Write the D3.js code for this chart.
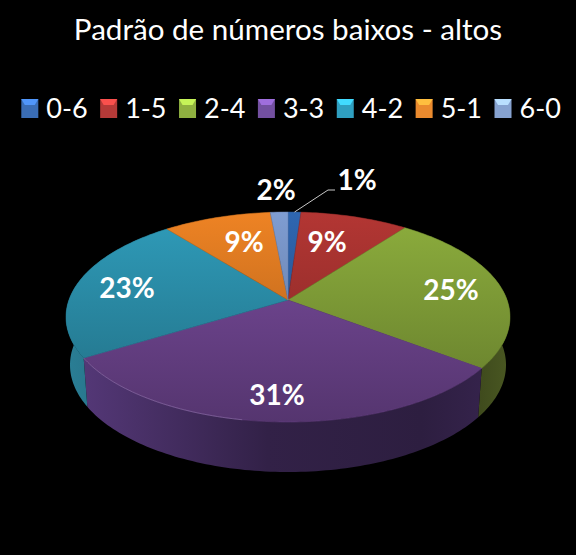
<!DOCTYPE html>
<html>
<head>
<meta charset="utf-8">
<script src="https://cdnjs.cloudflare.com/ajax/libs/d3/7.8.5/d3.min.js"></script>
<style>
html, body { margin: 0; padding: 0; background: #000; }
svg { display: block; }
text { font-family: Lato, "Open Sans", sans-serif; fill: #fff; }
</style>
</head>
<body>
<div id="chart"></div>
<script>
var title = "Padrão de números baixos - altos";
var categories = ["0-6", "1-5", "2-4", "3-3", "4-2", "5-1", "6-0"];
var shares = [1.1, 9.2, 25, 31, 23, 9.2, 1.5];
var shareLabels = ["1%", "9%", "25%", "31%", "23%", "9%", "2%"];
var legendColors = ["#3a6db5", "#b53a38", "#8fb040", "#7350a0", "#2f9fc0", "#ea8a2e", "#86a2d0"];
var topColors = ["#2f66b0", "#b33633", "#8dae3d", "#7a4c9e", "#2f9cba", "#ee8324", "#7f9dd2"];
var sideColors = ["#24508a", "#7d2826", "#4f5e24", "#56397a", "#2a7d94", "#a85c18", "#5c76a0"];

var width = 576, height = 555;

// pie geometry, perspective puts the apex above the ellipse centre
var topEllipse = {cx: 288, cy: 317, rx: 222, ry: 105};
var bottomEllipse = {cx: 288, cy: 365, rx: 218, ry: 107};
var tilt = 17 / 105;

var labelPos = [[357, 190], [327, 252], [451, 300], [277, 405], [127, 298], [244, 252], [276, 200]];

var svg = d3.select("#chart")
    .append("svg")
    .attr("width", width)
    .attr("height", height);

svg.append("rect")
    .attr("width", width)
    .attr("height", height)
    .attr("fill", "#000");

var defs = svg.append("defs");

function project(e, angle, r) {
    var x = r * Math.sin(angle);
    var v = -r * Math.cos(angle);
    var d = 1 - tilt * v;
    return [
        e.cx + e.rx * x * Math.sqrt(1 - tilt * tilt) / d,
        e.cy + e.ry * (v - tilt) / d
    ];
}

function arcPoints(e, a0, a1) {
    var n = Math.max(2, Math.ceil((a1 - a0) / 0.02));
    return d3.range(n + 1).map(function(i) {
        return project(e, a0 + (a1 - a0) * i / n, 1);
    });
}

var line = d3.line();

var slices = d3.pie().sort(null).value(function(d) { return d; })(shares);

// gradients
topColors.forEach(function(c, i) {
    var g = defs.append("linearGradient")
        .attr("id", "top" + i)
        .attr("gradientUnits", "userSpaceOnUse")
        .attr("x1", 0).attr("x2", 0)
        .attr("y1", topEllipse.cy - topEllipse.ry)
        .attr("y2", topEllipse.cy + topEllipse.ry);
    g.append("stop").attr("offset", 0).attr("stop-color", c);
    g.append("stop").attr("offset", 1).attr("stop-color", d3.color(c).darker(1));
});

sideColors.forEach(function(c, i) {
    var g = defs.append("linearGradient")
        .attr("id", "side" + i)
        .attr("gradientUnits", "userSpaceOnUse")
        .attr("x1", 70).attr("x2", 510)
        .attr("y1", 0).attr("y2", 0);
    g.append("stop").attr("offset", 0).attr("stop-color", c);
    g.append("stop").attr("offset", 0.45).attr("stop-color", d3.color(c).darker(1.5));
    g.append("stop").attr("offset", 0.8).attr("stop-color", d3.color(c).darker(1.8));
    g.append("stop").attr("offset", 1).attr("stop-color", d3.color(c).darker(i == 2 ? 0.2 : 1.2));
});

// side walls first, the top surface covers the hidden ones
svg.append("g")
    .selectAll("path")
    .data(slices)
    .enter()
    .append("path")
    .attr("d", function(d) {
        var upper = arcPoints(topEllipse, d.startAngle, d.endAngle);
        var lower = arcPoints(bottomEllipse, d.startAngle, d.endAngle).reverse();
        return line(upper.concat(lower)) + "Z";
    })
    .attr("fill", function(d, i) { return "url(#side" + i + ")"; });

svg.append("g")
    .selectAll("path")
    .data(slices)
    .enter()
    .append("path")
    .attr("d", function(d) {
        var pts = arcPoints(topEllipse, d.startAngle, d.endAngle);
        return line([project(topEllipse, 0, 0)].concat(pts)) + "Z";
    })
    .attr("fill", function(d, i) { return "url(#top" + i + ")"; })
    .attr("stroke", function(d, i) { return d3.color(topColors[i]).darker(0.5); })
    .attr("stroke-width", 0.5);

// light rim along the front left of the purple slice
svg.append("path")
    .attr("d", line(arcPoints(topEllipse, slices[3].startAngle + 1.1, slices[3].endAngle)))
    .attr("fill", "none")
    .attr("stroke", "#a98cc8")
    .attr("stroke-opacity", 0.55)
    .attr("stroke-width", 0.8);

// title
svg.append("text")
    .attr("x", 288)
    .attr("y", 40)
    .attr("text-anchor", "middle")
    .attr("font-size", 29.6)
    .text(title);

// legend
var legendScale = d3.scalePoint()
    .domain(categories)
    .range([21.3, 494.5]);

var legend = svg.append("g")
    .selectAll("g")
    .data(categories)
    .enter()
    .append("g")
    .attr("transform", function(d) { return "translate(" + legendScale(d) + ",99)"; });

legend.append("rect")
    .attr("width", 17)
    .attr("height", 19)
    .attr("fill", function(d, i) { return legendColors[i]; });

legend.append("path")
    .attr("d", "M0,0H17L13.5,6H3.5Z")
    .attr("fill", function(d, i) { return d3.color(legendColors[i]).brighter(0.9); });

legend.append("text")
    .attr("x", 25)
    .attr("y", 19)
    .attr("font-size", 27)
    .text(function(d) { return d; });

// leader line for the 1% label
var rim = project(topEllipse, slices[0].startAngle + (slices[0].endAngle - slices[0].startAngle) / 2, 1);
svg.append("path")
    .attr("d", line([rim, [328, 190], [335, 190]]))
    .attr("fill", "none")
    .attr("stroke", "#c8c8c8")
    .attr("stroke-width", 1);

// data labels
svg.append("g")
    .selectAll("text")
    .data(shareLabels)
    .enter()
    .append("text")
    .attr("x", function(d, i) { return labelPos[i][0]; })
    .attr("y", function(d, i) { return labelPos[i][1]; })
    .attr("text-anchor", "middle")
    .attr("font-size", 28)
    .attr("font-weight", "bold")
    .text(function(d) { return d; });
</script>
</body>
</html>
